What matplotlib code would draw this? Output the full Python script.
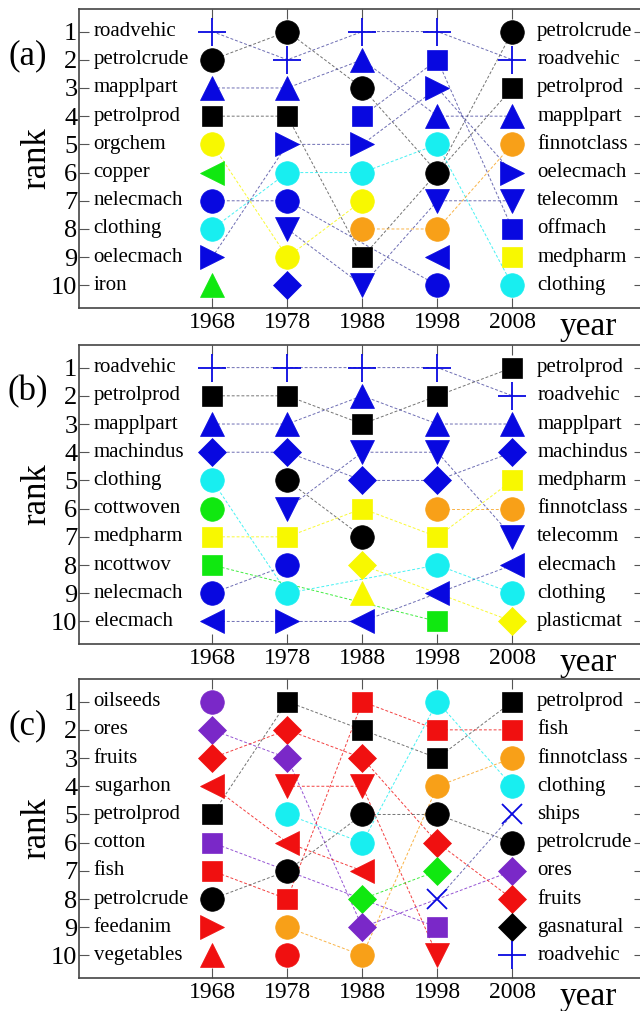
import matplotlib
matplotlib.use('Agg')
import matplotlib.pyplot as plt

years = [1968, 1978, 1988, 1998, 2008]

# top-10 products per year, rank 1 first
a_1968 = ['roadvehic', 'petrolcrude', 'mapplpart', 'petrolprod', 'orgchem', 'copper', 'nelecmach', 'clothing', 'oelecmach', 'iron']
a_1978 = ['petrolcrude', 'roadvehic', 'mapplpart', 'petrolprod', 'oelecmach', 'clothing', 'nelecmach', 'telecomm', 'orgchem', 'machindus']
a_1988 = ['roadvehic', 'mapplpart', 'petrolcrude', 'offmach', 'oelecmach', 'clothing', 'orgchem', 'finnotclass', 'petrolprod', 'telecomm']
a_1998 = ['roadvehic', 'offmach', 'oelecmach', 'mapplpart', 'clothing', 'petrolcrude', 'telecomm', 'finnotclass', 'elecmach', 'nelecmach']
a_2008 = ['petrolcrude', 'roadvehic', 'petrolprod', 'mapplpart', 'finnotclass', 'oelecmach', 'telecomm', 'offmach', 'medpharm', 'clothing']

b_1968 = ['roadvehic', 'petrolprod', 'mapplpart', 'machindus', 'clothing', 'cottwoven', 'medpharm', 'ncottwov', 'nelecmach', 'elecmach']
b_1978 = ['roadvehic', 'petrolprod', 'mapplpart', 'machindus', 'petrolcrude', 'telecomm', 'medpharm', 'nelecmach', 'clothing', 'oelecmach']
b_1988 = ['roadvehic', 'mapplpart', 'petrolprod', 'telecomm', 'machindus', 'medpharm', 'petrolcrude', 'plasticmat', 'rubbermat', 'elecmach']
b_1998 = ['roadvehic', 'petrolprod', 'mapplpart', 'telecomm', 'machindus', 'finnotclass', 'medpharm', 'clothing', 'elecmach', 'ncottwov']
b_2008 = ['petrolprod', 'roadvehic', 'mapplpart', 'machindus', 'medpharm', 'finnotclass', 'telecomm', 'elecmach', 'clothing', 'plasticmat']

c_1968 = ['oilseeds', 'ores', 'fruits', 'sugarhon', 'petrolprod', 'cotton', 'fish', 'petrolcrude', 'feedanim', 'vegetables']
c_1978 = ['petrolprod', 'fruits', 'ores', 'coffee', 'clothing', 'sugarhon', 'petrolcrude', 'fish', 'finnotclass', 'cereals']
c_1988 = ['fish', 'petrolprod', 'fruits', 'coffee', 'petrolcrude', 'clothing', 'sugarhon', 'fertcrude', 'ores', 'finnotclass']
c_1998 = ['clothing', 'fish', 'petrolprod', 'finnotclass', 'petrolcrude', 'fruits', 'fertcrude', 'ships', 'cotton', 'coffee']
c_2008 = ['petrolprod', 'fish', 'finnotclass', 'clothing', 'ships', 'petrolcrude', 'ores', 'fruits', 'gasnatural', 'roadvehic']

panels = [('(a)', [a_1968, a_1978, a_1988, a_1998, a_2008]),
          ('(b)', [b_1968, b_1978, b_1988, b_1998, b_2008]),
          ('(c)', [c_1968, c_1978, c_1988, c_1998, c_2008])]

BLUE = '#0808e0'
BLACK = '#000000'
YEL = '#f8f800'
CYAN = '#18eef0'
GREEN = '#10e810'
ORANGE = '#f8a018'
RED = '#f01010'
PURPLE = '#7a28c8'

# marker, colour for each product
style = {
    'roadvehic': ('+', BLUE), 'petrolcrude': ('o', BLACK), 'mapplpart': ('^', BLUE),
    'petrolprod': ('s', BLACK), 'orgchem': ('o', YEL), 'copper': ('<', GREEN),
    'nelecmach': ('o', BLUE), 'clothing': ('o', CYAN), 'oelecmach': ('>', BLUE),
    'iron': ('^', GREEN), 'telecomm': ('v', BLUE), 'machindus': ('D', BLUE),
    'offmach': ('s', BLUE), 'finnotclass': ('o', ORANGE), 'elecmach': ('<', BLUE),
    'medpharm': ('s', YEL), 'cottwoven': ('o', GREEN), 'ncottwov': ('s', GREEN),
    'plasticmat': ('D', YEL), 'rubbermat': ('^', YEL),
    'oilseeds': ('o', PURPLE), 'ores': ('D', PURPLE), 'fruits': ('D', RED),
    'sugarhon': ('<', RED), 'cotton': ('s', PURPLE), 'fish': ('s', RED),
    'feedanim': ('>', RED), 'vegetables': ('^', RED), 'coffee': ('v', RED),
    'cereals': ('o', RED), 'fertcrude': ('D', GREEN), 'ships': ('x', BLUE),
    'gasnatural': ('D', BLACK),
}
msize = {'o': 17, 's': 15, '^': 17, 'v': 17, '<': 17, '>': 17, 'D': 14, '+': 20, 'x': 14}
line_col = {BLACK: '#505050', BLUE: '#4848a0'}

plt.rcParams['font.family'] = ['Liberation Serif', 'DejaVu Serif']

fig = plt.figure(figsize=(6.4, 10.11), dpi=100)
bottoms = [0.6954, 0.363, 0.0326]

for (tag, cols), bot in zip(panels, bottoms):
    ax = fig.add_axes([0.123, bot, 0.884, 0.2957])
    # connecting lines
    names = []
    for col in cols:
        for n in col:
            if n not in names:
                names.append(n)
    for n in names:
        xs, ys = [], []
        for yr, col in zip(years, cols):
            if n in col:
                xs.append(yr)
                ys.append(col.index(n) + 1)
        if len(xs) > 1:
            c = style[n][1]
            ax.plot(xs, ys, ls=(0, (3, 2)), lw=0.7, color=line_col.get(c, c), alpha=0.8, zorder=1)
    # markers
    for yr, col in zip(years, cols):
        for r, n in enumerate(col, start=1):
            m, c = style[n]
            thin = m in '+x'
            ax.plot(yr, r, marker=m, ms=msize[m], color=c, mec=c,
                    mew=1.3 if thin else 0.5, ls='none', zorder=3)
    # product names beside first and last year
    for r, n in enumerate(cols[0], start=1):
        ax.text(1952.2, r, n, fontsize=15, ha='left', va='center')
    for r, n in enumerate(cols[-1], start=1):
        ax.text(2011.3, r, n, fontsize=15, ha='left', va='center')

    ax.set_xlim(1950.2, 2025.6)
    ax.set_ylim(10.8, 0.2)
    ax.set_xticks(years)
    ax.set_yticks(range(1, 11))
    ax.tick_params(direction='in', length=7, width=0.8, color='#555555',
                   top=True, right=True, labelsize=17, pad=3)
    ax.tick_params(axis='y', labelsize=19, pad=1)
    for s in ax.spines.values():
        s.set_color('#444444')
        s.set_linewidth(1.2)
    ax.set_ylabel('rank', fontsize=25, labelpad=-2)
    ax.text(2014.3, -0.062, 'year', fontsize=24, ha='left', va='center',
            transform=ax.get_xaxis_transform())
    ax.text(-0.09, 0.845, tag, fontsize=25, ha='center', va='center',
            transform=ax.transAxes)

fig.savefig('out.png', dpi=100)
